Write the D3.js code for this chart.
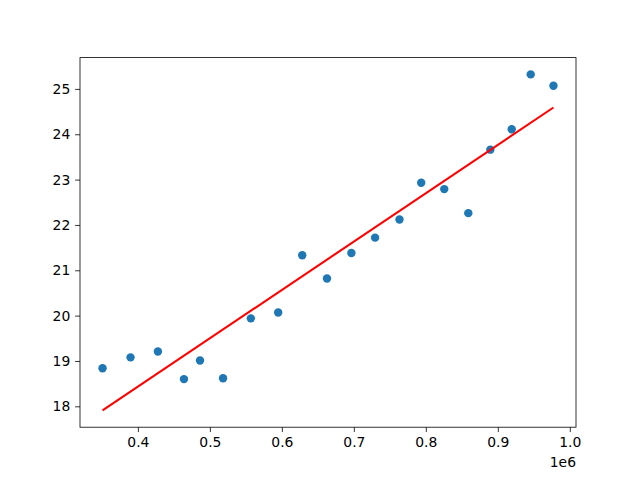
<!DOCTYPE html>
<html lang="en">
<head>
    <meta charset="UTF-8">
    <title>scatter with fit</title>
    <script src="https://d3js.org/d3.v7.min.js"></script>
    <style>
        body { margin: 0; background: white; }
        svg { display: block; }
        text { font-family: "DejaVu Sans", sans-serif; font-size: 13.9px; fill: black; }
    </style>
</head>
<body>
    <svg></svg>
    <script>
        // Data
        var xValues = [350900, 389800, 427800, 464000, 486300, 518300, 556900, 594900, 628300, 662700, 696600,
                       729500, 763400, 793600, 825600, 859000, 889600, 919300, 945700, 977300];
        var yValues = [18.84, 19.08, 19.21, 18.60, 19.01, 18.62, 19.94, 20.07, 21.33, 20.82, 21.38,
                       21.72, 22.12, 22.93, 22.79, 22.26, 23.66, 24.11, 25.32, 25.07];
        // fitted line, two end points
        var fitX = [350900, 977300];
        var fitY = [17.91, 24.59];
        var xTicks = [400000, 500000, 600000, 700000, 800000, 900000, 1000000];
        var yTicks = [18, 19, 20, 21, 22, 23, 24, 25];

        var width = 640, height = 480;
        var svg = d3.select("svg").attr("width", width).attr("height", height);

        // plot box (window.top is read-only, so use other names)
        var plotL = 80, plotR = 576, plotT = 57.6, plotB = 427.2;

        // matplotlib style 5% margins
        function padded(vals) {
            var lo = d3.min(vals), hi = d3.max(vals), p = (hi - lo) * 0.05;
            return [lo - p, hi + p];
        }
        var x = d3.scaleLinear().domain(padded(xValues.concat(fitX))).range([plotL, plotR]);
        var y = d3.scaleLinear().domain(padded(yValues.concat(fitY))).range([plotB, plotT]);

        var tick = 4.86;

        // x axis
        var xAxis = d3.axisBottom(x).tickValues(xTicks).tickSize(tick).tickPadding(4.86)
            .tickFormat(function(d) { return (d / 1e6).toFixed(1); });
        var gx = svg.append("g").attr("transform", "translate(0," + plotB + ")").call(xAxis);
        gx.select(".domain").remove();
        gx.selectAll("line").attr("stroke", "black").attr("stroke-width", 0.8);
        gx.selectAll("text").attr("font-size", null).attr("font-family", null);

        // y axis
        var yAxis = d3.axisLeft(y).tickValues(yTicks).tickSize(tick).tickPadding(4.86);
        var gy = svg.append("g").attr("transform", "translate(" + plotL + ",0)").call(yAxis);
        gy.select(".domain").remove();
        gy.selectAll("line").attr("stroke", "black").attr("stroke-width", 0.8);
        gy.selectAll("text").attr("font-size", null).attr("font-family", null);

        // offset text
        svg.append("text").attr("x", plotR).attr("y", 467).attr("text-anchor", "end").text("1e6");

        // points
        svg.append("g").selectAll("circle")
            .data(xValues.map(function(v, i) { return [v, yValues[i]]; }))
            .enter().append("circle")
            .attr("cx", function(d) { return x(d[0]); })
            .attr("cy", function(d) { return y(d[1]); })
            .attr("r", 4.2)
            .attr("fill", "#1f77b4");

        // fit line
        svg.append("path")
            .datum(fitX.map(function(v, i) { return [v, fitY[i]]; }))
            .attr("d", d3.line().x(function(d) { return x(d[0]); }).y(function(d) { return y(d[1]); }))
            .attr("fill", "none")
            .attr("stroke", "red")
            .attr("stroke-width", 2.08);

        // frame
        svg.append("rect")
            .attr("x", plotL).attr("y", plotT)
            .attr("width", plotR - plotL).attr("height", plotB - plotT)
            .attr("fill", "none").attr("stroke", "black").attr("stroke-width", 0.8);
    </script>
</body>
</html>
